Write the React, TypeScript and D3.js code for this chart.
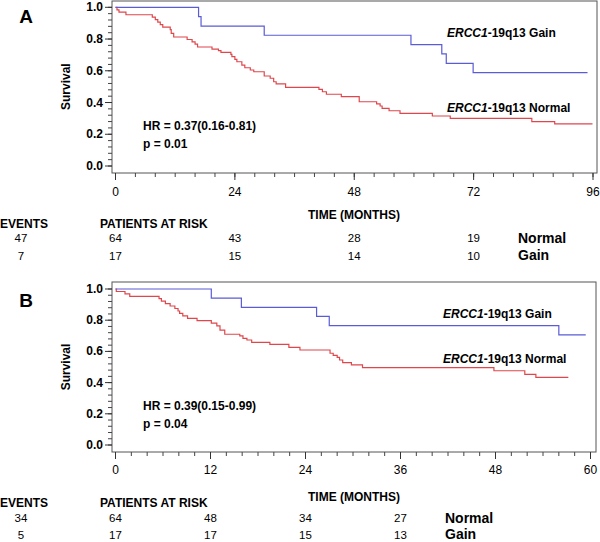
import React from "react";
import * as d3 from "d3";

// ---------- data ----------
const aTicks = [0, 24, 48, 72, 96];
const bTicks = [0, 12, 24, 36, 48, 60];
const yTicks = [0, 0.2, 0.4, 0.6, 0.8, 1.0];

const aGainTime = [0, 16.7, 17.2, 29.9, 59.4, 65.6, 66.5, 71.9, 94.9];
const aGainSurv = [1, 0.941, 0.882, 0.824, 0.765, 0.706, 0.647, 0.588, 0.588];
const aNormTime = [0, 0.3, 0.7, 2.1, 7.4, 8.0, 8.5, 9.0, 9.5, 11.0, 11.2, 11.7, 14.4, 15.4, 16.0, 16.5, 19.4, 20.7, 21.2, 23.2, 23.4, 24.0, 24.4, 25.4, 26.0, 27.1, 27.8, 29.9, 31.1, 31.8, 32.3, 34.2, 40.9, 41.6, 42.4, 45.4, 49.0, 52.5, 53.2, 53.6, 55.0, 57.2, 63.7, 67.3, 83.7, 88.3, 95.9];
const aNormSurv = [1, 0.984, 0.969, 0.953, 0.938, 0.922, 0.906, 0.891, 0.875, 0.859, 0.836, 0.813, 0.797, 0.782, 0.768, 0.75, 0.736, 0.727, 0.716, 0.703, 0.689, 0.672, 0.657, 0.636, 0.619, 0.605, 0.594, 0.567, 0.553, 0.531, 0.517, 0.496, 0.483, 0.468, 0.452, 0.437, 0.405, 0.391, 0.378, 0.363, 0.348, 0.332, 0.315, 0.3, 0.279, 0.265, 0.265];

const bGainTime = [0, 12.1, 15.9, 25.4, 27.0, 56.0, 59.4];
const bGainSurv = [1, 0.941, 0.882, 0.824, 0.765, 0.706, 0.706];
const bNormTime = [0, 0.1, 1.2, 1.8, 5.5, 5.8, 6.3, 6.9, 7.5, 7.9, 8.1, 8.5, 9.1, 10.3, 12.1, 12.8, 13.2, 13.8, 15.7, 16.1, 16.6, 17.2, 19.5, 21.9, 23.3, 27.1, 27.5, 28.0, 28.3, 28.7, 29.8, 31.2, 47.8, 51.7, 53.1, 57.2];
const bNormSurv = [1, 0.984, 0.969, 0.953, 0.938, 0.922, 0.906, 0.891, 0.875, 0.859, 0.844, 0.828, 0.812, 0.797, 0.781, 0.763, 0.737, 0.71, 0.699, 0.684, 0.673, 0.658, 0.645, 0.626, 0.609, 0.588, 0.575, 0.562, 0.545, 0.528, 0.513, 0.496, 0.476, 0.453, 0.434, 0.434];

const aRiskTimes = [0, 24, 48, 72];
const aRiskNormal = [64, 43, 28, 19];
const aRiskGain = [17, 15, 14, 10];
const aEvents = [47, 7];
const bRiskTimes = [0, 12, 24, 36];
const bRiskNormal = [64, 48, 34, 27];
const bRiskGain = [17, 17, 15, 13];
const bEvents = [34, 5];

const aHR = "HR = 0.37(0.16-0.81)";
const aP = "p = 0.01";
const bHR = "HR = 0.39(0.15-0.99)";
const bP = "p = 0.04";

const BLUE = "#5b5bd6";
const RED = "#e0474c";
const FONT = "'Liberation Sans', Arial, sans-serif";

type PanelProps = {
  letter: string;
  top: number;
  bottom: number;
  right: number;
  y0: number;
  y1: number;
  xMax: number;
  xRight: number;
  ticks: number[];
  minorStep: number;
  gainT: number[]; gainS: number[];
  normT: number[]; normS: number[];
  gainLabelY: number; normLabelY: number; labelX: number;
  hr: string; p: string; hrY: number;
  tickLabelY: number; titleY: number;
  headY: number; row1Y: number; row2Y: number;
  riskTimes: number[]; riskNormal: number[]; riskGain: number[]; events: number[];
  nameX: number;
  letterY: number;
};

function Panel(pr: PanelProps) {
  const left = 112;
  const x = d3.scaleLinear().domain([0, pr.xMax]).range([115.5, pr.xRight]);
  const y = d3.scaleLinear().domain([0, 1]).range([pr.y0, pr.y1]);
  const line = d3.line<[number, number]>().x(d => x(d[0])).y(d => y(d[1])).curve(d3.curveStepAfter);
  const gain = line(pr.gainT.map((t, i) => [t, pr.gainS[i]]) as [number, number][]) || "";
  const norm = line(pr.normT.map((t, i) => [t, pr.normS[i]]) as [number, number][]) || "";
  const minorX = d3.range(0, pr.xMax + 0.001, pr.minorStep);
  const minorY = d3.range(0, 1.0001, 0.04);
  const midY = (pr.y0 + pr.y1) / 2;
  return (
    <g fontFamily={FONT}>
      <text x={26} y={pr.letterY} fontSize={19} fontWeight="bold" textAnchor="middle" dominantBaseline="central">{pr.letter}</text>
      <rect x={left} y={pr.top} width={pr.right - left} height={pr.bottom - pr.top} fill="none" stroke="#555" strokeWidth={1} />
      {minorY.map((v, i) => (
        <line key={"my" + i} x1={left - 4} x2={left} y1={y(v)} y2={y(v)} stroke="#444" strokeWidth={1} />
      ))}
      {yTicks.map((v, i) => (
        <g key={"y" + i}>
          <line x1={left - 7} x2={left} y1={y(v)} y2={y(v)} stroke="#333" strokeWidth={1} />
          <text x={103} y={y(v)} fontSize={12} fontWeight="bold" textAnchor="end" dominantBaseline="central">{v.toFixed(1)}</text>
        </g>
      ))}
      <text transform={`translate(66,${midY}) rotate(-90)`} fontSize={12} fontWeight="bold" textAnchor="middle" dominantBaseline="central">Survival</text>
      {minorX.map((v, i) => (
        <line key={"mx" + i} x1={x(v)} x2={x(v)} y1={pr.bottom} y2={pr.bottom + 4} stroke="#444" strokeWidth={1} />
      ))}
      {pr.ticks.map((v, i) => (
        <g key={"x" + i}>
          <line x1={x(v)} x2={x(v)} y1={pr.bottom} y2={pr.bottom + 7} stroke="#333" strokeWidth={1} />
          <text x={x(v)} y={pr.tickLabelY} fontSize={12} textAnchor="middle" dominantBaseline="central">{v}</text>
        </g>
      ))}
      <text x={354} y={pr.titleY} fontSize={12} fontWeight="bold" textAnchor="middle" dominantBaseline="central">TIME (MONTHS)</text>
      <path d={norm} fill="none" stroke={RED} strokeWidth={1.2} />
      <path d={gain} fill="none" stroke={BLUE} strokeWidth={1.2} />
      <text x={pr.labelX} y={pr.gainLabelY} fontSize={12} fontWeight="bold" dominantBaseline="central">
        <tspan fontStyle="italic">ERCC1</tspan>-19q13 Gain
      </text>
      <text x={pr.labelX} y={pr.normLabelY} fontSize={12} fontWeight="bold" dominantBaseline="central">
        <tspan fontStyle="italic">ERCC1</tspan>-19q13 Normal
      </text>
      <text x={143} y={pr.hrY} fontSize={12} fontWeight="bold" dominantBaseline="central">{pr.hr}</text>
      <text x={143} y={pr.hrY + 18} fontSize={12} fontWeight="bold" dominantBaseline="central">{pr.p}</text>
      <text x={0} y={pr.headY} fontSize={12} fontWeight="bold" dominantBaseline="central">EVENTS</text>
      <text x={100} y={pr.headY} fontSize={12} fontWeight="bold" dominantBaseline="central">PATIENTS AT RISK</text>
      <text x={21} y={pr.row1Y} fontSize={11.5} textAnchor="middle" dominantBaseline="central">{pr.events[0]}</text>
      <text x={21} y={pr.row2Y} fontSize={11.5} textAnchor="middle" dominantBaseline="central">{pr.events[1]}</text>
      {pr.riskTimes.map((t, i) => (
        <g key={"r" + i}>
          <text x={x(t)} y={pr.row1Y} fontSize={11.5} textAnchor="middle" dominantBaseline="central">{pr.riskNormal[i]}</text>
          <text x={x(t)} y={pr.row2Y} fontSize={11.5} textAnchor="middle" dominantBaseline="central">{pr.riskGain[i]}</text>
        </g>
      ))}
      <text x={pr.nameX} y={pr.row1Y} fontSize={14} fontWeight="bold" dominantBaseline="central">Normal</text>
      <text x={pr.nameX} y={pr.row2Y - 1} fontSize={14} fontWeight="bold" dominantBaseline="central">Gain</text>
    </g>
  );
}

export default function App() {
  return (
    <svg width={600} height={542} viewBox="0 0 600 542" style={{ position: "absolute", left: 0, top: 0, background: "#fff" }}>
      <rect x={0} y={0} width={600} height={542} fill="#fff" />
      <Panel
        letter="A" letterY={16} top={1} bottom={173} right={597}
        y0={166} y1={7.3} xMax={96} xRight={593} ticks={aTicks} minorStep={4}
        gainT={aGainTime} gainS={aGainSurv} normT={aNormTime} normS={aNormSurv}
        labelX={447} gainLabelY={33.3} normLabelY={107.7}
        hr={aHR} p={aP} hrY={126}
        tickLabelY={191.7} titleY={215} headY={224} row1Y={237.5} row2Y={256}
        riskTimes={aRiskTimes} riskNormal={aRiskNormal} riskGain={aRiskGain} events={aEvents}
        nameX={518}
      />
      <Panel
        letter="B" letterY={300} top={282} bottom={452} right={596}
        y0={445} y1={289} xMax={60} xRight={590.5} ticks={bTicks} minorStep={2}
        gainT={bGainTime} gainS={bGainSurv} normT={bNormTime} normS={bNormSurv}
        labelX={443} gainLabelY={314} normLabelY={359.3}
        hr={bHR} p={bP} hrY={405.7}
        tickLabelY={470} titleY={497} headY={503} row1Y={517.5} row2Y={535}
        riskTimes={bRiskTimes} riskNormal={bRiskNormal} riskGain={bRiskGain} events={bEvents}
        nameX={445}
      />
    </svg>
  );
}
